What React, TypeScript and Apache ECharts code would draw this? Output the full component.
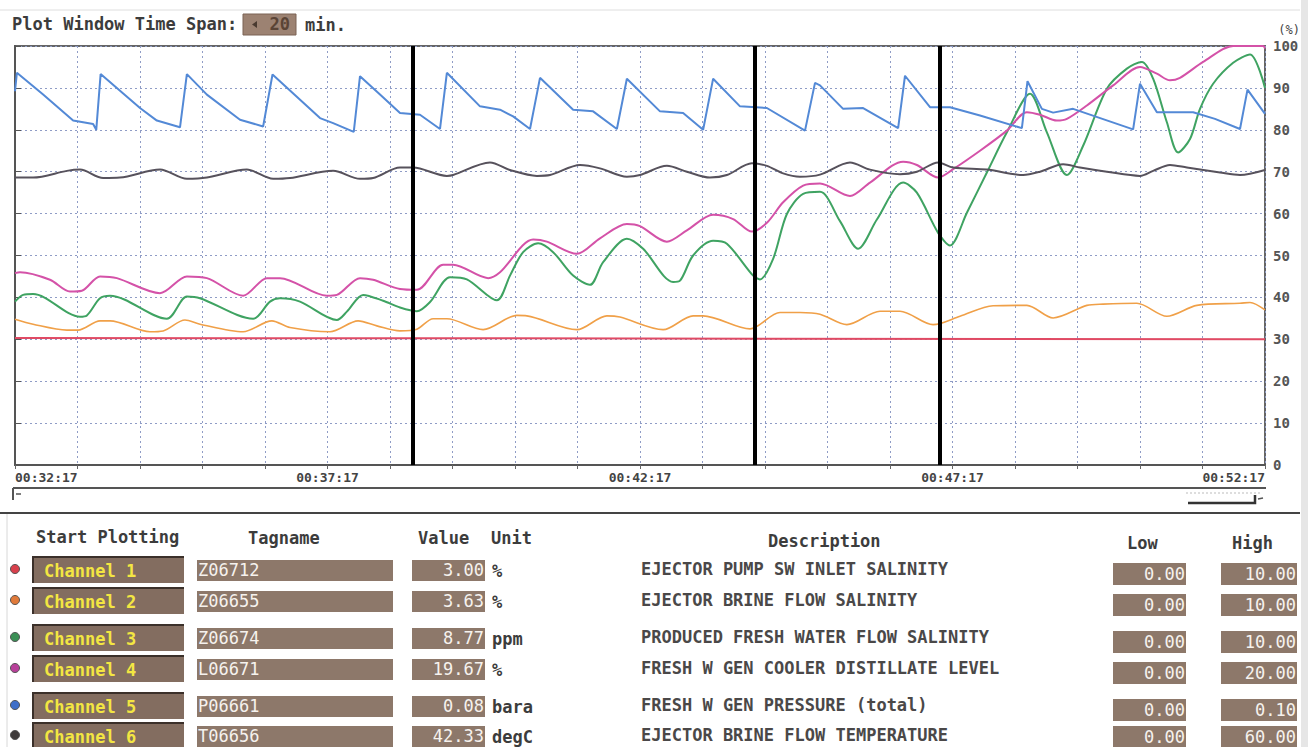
import React, { useEffect, useRef } from 'react';
import * as echarts from 'echarts';

// ---------- data ----------
const startMinute = 32;
const startSecond = 17;
const spanMinutes = 20;

const ch1Red = [[0, 30.3], [10, 30.2], [20, 30.0]];
const ch2Orange = [[0,34.8],[0.29,33.6],[0.83,32.2],[1.01,32.2],[1.36,34.4],[1.52,34.4],[2.16,31.8],[2.37,32.0],[2.72,34.6],[2.96,33.6],[3.65,31.8],[4.11,34.4],[4.4,32.8],[5.04,31.8],[5.49,34.4],[5.79,33.2],[6.16,32.0],[6.43,32.4],[6.69,34.9],[6.91,34.9],[7.49,32.3],[8.03,35.7],[8.19,35.6],[8.99,32.3],[9.47,35.6],[9.68,35.3],[10.37,32.3],[10.85,35.6],[11.01,35.6],[11.76,32.5],[12.24,36.4],[12.56,36.4],[12.88,36.0],[13.31,33.5],[13.84,36.7],[14.16,36.7],[14.69,33.5],[15.12,35.5],[15.65,38.0],[16.19,38.1],[16.61,35.1],[17.15,38.1],[17.41,38.4],[17.95,38.6],[18.43,35.5],[18.91,38.1],[19.6,38.6],[19.76,38.8],[20,37.0]];
const ch3Green = [[0,39.0],[0.13,40.6],[0.29,40.8],[1.04,35.4],[1.15,35.7],[1.36,39.8],[1.52,40.4],[2.43,34.9],[2.75,40.2],[2.96,39.8],[3.81,34.9],[4.08,39.0],[4.24,39.8],[4.56,39.0],[5.15,34.6],[5.31,36.6],[5.57,40.6],[5.89,39.2],[6.16,37.6],[6.43,36.7],[6.64,38.9],[6.96,44.8],[7.23,44.3],[7.71,39.3],[7.92,45.2],[8.13,50.8],[8.37,52.9],[8.61,50.8],[8.93,45.2],[9.2,43.0],[9.41,48.4],[9.79,54.0],[10.05,51.6],[10.53,43.7],[10.64,44.0],[10.85,50.0],[11.17,53.5],[11.39,52.8],[11.81,45.2],[11.92,44.3],[12.13,49.2],[12.35,59.9],[12.61,64.7],[12.88,65.2],[13.2,58.2],[13.49,51.6],[13.79,58.6],[14.21,67.4],[14.43,65.0],[14.77,55.4],[14.96,52.4],[15.23,60.2],[15.55,69.8],[15.87,79.4],[16.24,88.6],[16.51,79.4],[16.83,69.2],[17.09,76.2],[17.47,89.8],[17.79,94.6],[18.03,96.2],[18.21,92.2],[18.43,81.8],[18.61,74.6],[18.8,77.8],[18.96,85.0],[19.17,91.0],[19.49,96.0],[19.76,98.0],[20,90.0]];
const ch4Magenta = [[0,45.8],[0.08,46.0],[0.56,44.2],[0.88,41.4],[1.07,41.6],[1.36,45.0],[1.63,44.6],[2.32,41.0],[2.75,45.0],[3.07,44.6],[3.65,40.4],[4.03,44.6],[4.24,44.6],[4.99,40.4],[5.15,40.6],[5.52,44.6],[5.73,44.2],[6.16,42.0],[6.43,41.8],[6.85,47.8],[7.01,47.8],[7.57,44.6],[7.76,46.0],[8.29,53.8],[8.51,53.3],[8.99,50.4],[9.36,54.1],[9.79,57.5],[10.0,57.0],[10.43,53.3],[10.75,56.0],[11.17,59.7],[11.49,58.7],[11.79,55.7],[12.03,57.8],[12.29,62.7],[12.61,66.7],[12.88,67.2],[13.36,64.2],[13.68,67.4],[14.21,72.4],[14.43,71.6],[14.77,68.6],[15.01,70.6],[15.44,75.0],[15.87,79.8],[16.19,84.2],[16.4,83.6],[16.67,82.2],[16.83,82.6],[17.15,85.8],[17.57,90.6],[18.0,95.0],[18.27,93.4],[18.48,91.8],[18.64,92.4],[19.01,96.2],[19.49,100],[19.97,100],[20,99.4]];
const ch5Blue = [[0,89.2],[0.03,93.6],[0.45,88.4],[0.93,82.2],[1.25,81.4],[1.3,80.0],[1.37,93.3],[2.0,85.2],[2.27,82.2],[2.64,80.6],[2.75,93.3],[3.07,88.4],[3.6,82.4],[3.97,80.8],[4.12,93.2],[4.88,82.8],[5.09,81.6],[5.42,79.5],[5.52,92.8],[5.84,88.4],[6.16,84.0],[6.48,83.6],[6.8,80.2],[6.91,93.6],[7.44,85.6],[7.76,84.8],[7.97,83.2],[8.24,80.2],[8.4,92.4],[8.93,84.8],[9.25,84.4],[9.63,80.2],[9.79,92.2],[10.32,84.4],[10.69,84.0],[11.01,80.0],[11.17,92.2],[11.6,85.6],[12.03,85.2],[12.64,79.8],[12.8,91.2],[12.88,90.6],[13.25,85.0],[13.57,85.2],[14.13,80.4],[14.24,92.9],[14.64,85.4],[14.96,85.4],[15.44,83.4],[16.11,80.4],[16.2,91.6],[16.43,85.0],[16.61,84.1],[16.93,85.0],[17.89,80.1],[18.0,91.0],[18.27,84.2],[18.85,84.2],[19.2,82.6],[19.6,80.2],[19.72,89.6],[20,83.8]];
const ch6Gray = [[0,68.6],[0.29,68.6],[0.83,70.2],[1.04,70.5],[1.41,68.5],[1.68,68.6],[2.32,70.5],[2.75,68.3],[3.07,68.6],[3.71,70.5],[4.13,68.3],[4.4,68.5],[5.09,70.2],[5.52,68.3],[5.73,68.5],[6.16,71.0],[6.37,71.0],[6.91,69.0],[7.01,69.2],[7.6,72.2],[7.92,70.4],[8.35,69.0],[8.56,69.2],[9.04,71.6],[9.36,70.8],[9.79,68.8],[10.0,69.2],[10.43,71.4],[10.75,70.0],[11.12,68.6],[11.39,69.2],[11.79,72.0],[12.03,71.4],[12.29,69.6],[12.56,68.8],[12.88,69.3],[13.36,72.2],[13.68,70.5],[14.16,69.4],[14.43,70.0],[14.77,72.2],[15.01,71.0],[15.55,70.5],[16.13,69.2],[16.4,70.0],[16.77,71.8],[17.04,71.0],[17.47,70.0],[18.0,69.0],[18.21,70.2],[18.48,71.6],[18.75,71.0],[19.28,69.8],[19.6,69.2],[20,70.4]];

const markerMinutes = [6.37, 11.83, 14.8];

const channels = ['Channel 1', 'Channel 2', 'Channel 3', 'Channel 4', 'Channel 5', 'Channel 6'];
const tagnames = ['Z06712', 'Z06655', 'Z06674', 'L06671', 'P06661', 'T06656'];
const values = ['3.00', '3.63', '8.77', '19.67', '0.08', '42.33'];
const units = ['%', '%', 'ppm', '%', 'bara', 'degC'];
const descriptions = [
  'EJECTOR PUMP SW INLET SALINITY',
  'EJECTOR BRINE FLOW SALINITY',
  'PRODUCED FRESH WATER FLOW SALINITY',
  'FRESH W GEN COOLER DISTILLATE LEVEL',
  'FRESH W GEN PRESSURE (total)',
  'EJECTOR BRINE FLOW TEMPERATURE',
];
const lows = ['0.00', '0.00', '0.00', '0.00', '0.00', '0.00'];
const highs = ['10.00', '10.00', '10.00', '20.00', '0.10', '60.00'];
const timeSpan = '20';

// ---------- styles / layout ----------
const MONO = '"DejaVu Sans Mono", monospace';
const seriesColors = ['#e04a64', '#f0a048', '#3fa362', '#d452a8', '#5389d6', '#57525c'];
const seriesSmooth = [0, 0.3, 0.3, 0.3, 0, 0.3];
const dotColors = ['#d8404c', '#e07a3a', '#3a8f55', '#b8409a', '#3f6fc8', '#3e3a3a'];
const rowY = [570, 601, 638, 669, 706, 736];
const limitOffset = [4, 4, 4, 4, 4, 1];
const TEXT = '#3c3c3c';
const BROWN = '#8d786a';
const BROWN_DARK = '#836d60';

function timeLabel(v: number) {
  const total = startMinute + v;
  const mm = String(Math.floor(total)).padStart(2, '0');
  const ss = String(startSecond).padStart(2, '0');
  return `00:${mm}:${ss}`;
}

function txt(x: number, y: number, text: string, opts: any = {}) {
  return {
    type: 'text',
    x,
    y,
    silent: true,
    style: {
      text,
      fill: opts.fill || TEXT,
      font: `${opts.weight || 'bold'} ${opts.size || 17}px ${MONO}`,
      lineHeight: opts.lineHeight || 14,
      textAlign: opts.align || 'left',
      textVerticalAlign: 'middle',
    },
  };
}

function buildGraphics() {
  const g: any[] = [];
  // page frame bits
  g.push({ type: 'line', shape: { x1: 0, y1: 10, x2: 1300, y2: 10 }, style: { stroke: '#dedede', lineWidth: 1 } });
  g.push({ type: 'rect', shape: { x: 1301, y: 0, width: 7, height: 747 }, style: { fill: '#e6e6e6' } });
  g.push({ type: 'line', shape: { x1: 7, y1: 513, x2: 7, y2: 747 }, style: { stroke: '#d8d8d8', lineWidth: 1 } });

  // title
  g.push(txt(12, 24, 'Plot Window Time Span:'));
  g.push({ type: 'rect', shape: { x: 243, y: 14, width: 53, height: 21 }, style: { fill: '#9c8272', stroke: '#7a6254', lineWidth: 1 } });
  g.push({ type: 'polygon', shape: { points: [[252, 24.5], [257, 21], [257, 28]] }, style: { fill: '#4a3a30' } });
  g.push(txt(290, 24, timeSpan, { align: 'right', fill: '#5a4436' }));
  g.push(txt(305, 25, 'min.'));
  g.push(txt(1300, 30, '(%)', { size: 12, align: 'right', weight: 'normal', fill: '#444' }));

  // scrollbar
  g.push({ type: 'line', shape: { x1: 13, y1: 488, x2: 1266, y2: 488 }, style: { stroke: '#555', lineWidth: 2 } });
  g.push({ type: 'polyline', shape: { points: [[13, 488], [13, 500]] }, style: { stroke: '#555', lineWidth: 2 } });
  g.push({ type: 'line', shape: { x1: 16, y1: 494, x2: 21, y2: 494 }, style: { stroke: '#555', lineWidth: 1.5 } });
  g.push({ type: 'line', shape: { x1: 1186, y1: 493, x2: 1262, y2: 493 }, style: { stroke: '#bbb', lineWidth: 1, lineDash: [2, 2] } });
  g.push({ type: 'polyline', shape: { points: [[1188, 503], [1255, 503], [1255, 495]] }, style: { stroke: '#333', lineWidth: 2.5 } });
  g.push({ type: 'line', shape: { x1: 1258, y1: 499, x2: 1263, y2: 498 }, style: { stroke: '#555', lineWidth: 1.5 } });
  g.push({ type: 'line', shape: { x1: 0, y1: 513, x2: 1300, y2: 513 }, style: { stroke: '#444', lineWidth: 2 } });

  // table headers
  g.push(txt(36, 537, 'Start Plotting'));
  g.push(txt(248, 538, 'Tagname'));
  g.push(txt(418, 538, 'Value'));
  g.push(txt(491, 538, 'Unit'));
  g.push(txt(768, 541, 'Description'));
  g.push(txt(1127, 543, 'Low'));
  g.push(txt(1232, 543, 'High'));

  channels.forEach((name, i) => {
    const y = rowY[i];
    const ly = y + limitOffset[i];
    g.push({ type: 'circle', shape: { cx: 15, cy: y - 1, r: 4.5 }, style: { fill: dotColors[i], stroke: '#555', lineWidth: 1 } });
    g.push({ type: 'rect', shape: { x: 32, y: y - 14, width: 152, height: 27 }, style: { fill: BROWN_DARK } });
    g.push({ type: 'polyline', shape: { points: [[33, y + 13], [33, y - 13], [184, y - 13]] }, style: { stroke: '#3b302a', lineWidth: 2 } });
    g.push(txt(44, y + 1, name, { fill: '#f3e642' }));
    g.push({ type: 'rect', shape: { x: 197, y: y - 10, width: 196, height: 21 }, style: { fill: BROWN } });
    g.push(txt(198, y, tagnames[i], { fill: '#f6f2ee', weight: 'normal' }));
    g.push({ type: 'rect', shape: { x: 412, y: y - 10, width: 73, height: 21 }, style: { fill: BROWN } });
    g.push(txt(484, y, values[i], { fill: '#f6f2ee', weight: 'normal', align: 'right' }));
    g.push(txt(492, y + 1, units[i]));
    g.push(txt(641, y - 1, descriptions[i], { fill: '#4a4848' }));
    g.push({ type: 'rect', shape: { x: 1113, y: ly - 11, width: 73, height: 22 }, style: { fill: BROWN } });
    g.push(txt(1185, ly, lows[i], { fill: '#f6f2ee', weight: 'normal', align: 'right' }));
    g.push({ type: 'rect', shape: { x: 1221, y: ly - 11, width: 76, height: 22 }, style: { fill: BROWN } });
    g.push(txt(1296, ly, highs[i], { fill: '#f6f2ee', weight: 'normal', align: 'right' }));
  });
  return g;
}

function buildOption() {
  const seriesData = [ch1Red, ch2Orange, ch3Green, ch4Magenta, ch5Blue, ch6Gray];
  const gridLine = { show: true, lineStyle: { color: '#8f9cc6', width: 1, type: [2, 3] as any } };
  return {
    animation: false,
    backgroundColor: '#ffffff',
    grid: { left: 15, right: 43, top: 46, bottom: 282, show: true, borderColor: '#666', borderWidth: 2, backgroundColor: 'transparent' },
    xAxis: {
      type: 'value',
      min: 0,
      max: spanMinutes,
      interval: 1,
      axisLine: { show: true, lineStyle: { color: '#555', width: 2 } },
      axisTick: { show: true, length: 4, lineStyle: { color: '#666' } },
      axisLabel: {
        color: '#444',
        fontFamily: MONO,
        fontWeight: 'bold',
        fontSize: 13,
        margin: 6,
        showMinLabel: true,
        showMaxLabel: true,
        alignMinLabel: 'left',
        alignMaxLabel: 'right',
        formatter: (v: number) => (Math.round(v) % 5 === 0 ? timeLabel(v) : ''),
      },
      splitLine: gridLine,
    },
    yAxis: {
      type: 'value',
      position: 'right',
      min: 0,
      max: 100,
      interval: 10,
      axisLine: { show: true, lineStyle: { color: '#555', width: 2 } },
      axisTick: { show: true, length: 6, lineStyle: { color: '#555' } },
      axisLabel: { color: '#555', fontFamily: MONO, fontWeight: 'bold', fontSize: 14, margin: 8 },
      splitLine: gridLine,
    },
    series: seriesData.map((d, i) => ({
      type: 'line',
      name: channels[i],
      data: d,
      showSymbol: false,
      smooth: seriesSmooth[i],
      lineStyle: { color: seriesColors[i], width: i === 1 ? 1.6 : 2 },
      itemStyle: { color: seriesColors[i] },
      silent: true,
      z: 3,
      ...(i === 0
        ? {
            markLine: {
              silent: true,
              symbol: 'none',
              label: { show: false },
              lineStyle: { color: '#000', width: 4, type: 'solid' },
              z: 10,
              data: markerMinutes.map((m) => ({ xAxis: m })),
            },
          }
        : {}),
    })),
    graphic: buildGraphics(),
  };
}

export default function App() {
  const ref = useRef<HTMLDivElement>(null);
  useEffect(() => {
    document.body.style.margin = '0';
    const chart = echarts.init(ref.current as HTMLDivElement, null, { renderer: 'svg' });
    chart.setOption(buildOption() as any);
    return () => chart.dispose();
  }, []);
  return <div ref={ref} style={{ width: 1308, height: 747, background: '#fff' }} />;
}
